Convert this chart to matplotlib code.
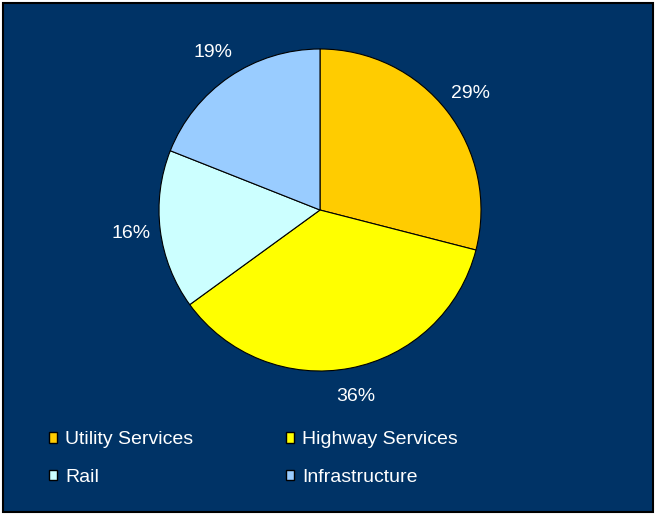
import matplotlib.pyplot as plt
from matplotlib.patches import Rectangle

plt.rcParams['font.family'] = ['Liberation Sans', 'DejaVu Sans']

# data
labels = ['Utility Services', 'Highway Services', 'Rail', 'Infrastructure']
shares = [29, 36, 16, 19]
colors = ['#FFCC00', '#FFFF00', '#CCFFFF', '#99CCFF']
navy = '#003366'

W, H = 657, 517
fig = plt.figure(figsize=(W / 100, H / 100), dpi=100, facecolor='white')

# background panel with black frame
fig.patches.append(Rectangle((3 / W, 5 / H), 650 / W, 509 / H, transform=fig.transFigure,
                             facecolor=navy, edgecolor='black', linewidth=1.5, zorder=-5))

# pie axes: centre (320,210) px, radius 161 px
cx, cy, r = 320, 210, 161
ax = fig.add_axes([(cx - r) / W, (H - cy - r) / H, 2 * r / W, 2 * r / H])
ax.set_facecolor('none')
wedges, texts, autotexts = ax.pie(shares, colors=colors, startangle=90, counterclock=False,
                                  radius=1, autopct='%d%%', pctdistance=1.18,
                                  wedgeprops=dict(edgecolor='black', linewidth=0.8))
for t in autotexts:
    t.set_color('white')
    t.set_fontsize(14)
ax.set_xlim(-1, 1)
ax.set_ylim(-1, 1)
ax.set_aspect('equal')
ax.axis('off')

# legend fills column-wise, so reorder to get rows: Utility/Highway, Rail/Infrastructure
order = [0, 2, 1, 3]
leg = fig.legend([wedges[i] for i in order], [labels[i] for i in order], ncol=2,
                 loc='upper left', bbox_to_anchor=(31 / W, 1 - 414 / H), frameon=False,
                 fontsize=14, labelcolor='white',
                 handlelength=0.45, handleheight=0.45, handletextpad=0.4,
                 columnspacing=4.75, labelspacing=1.05)
for h in leg.legend_handles:
    h.set_edgecolor('black')
    h.set_linewidth(1.0)

fig.savefig('out.png', dpi=100, facecolor='white')
